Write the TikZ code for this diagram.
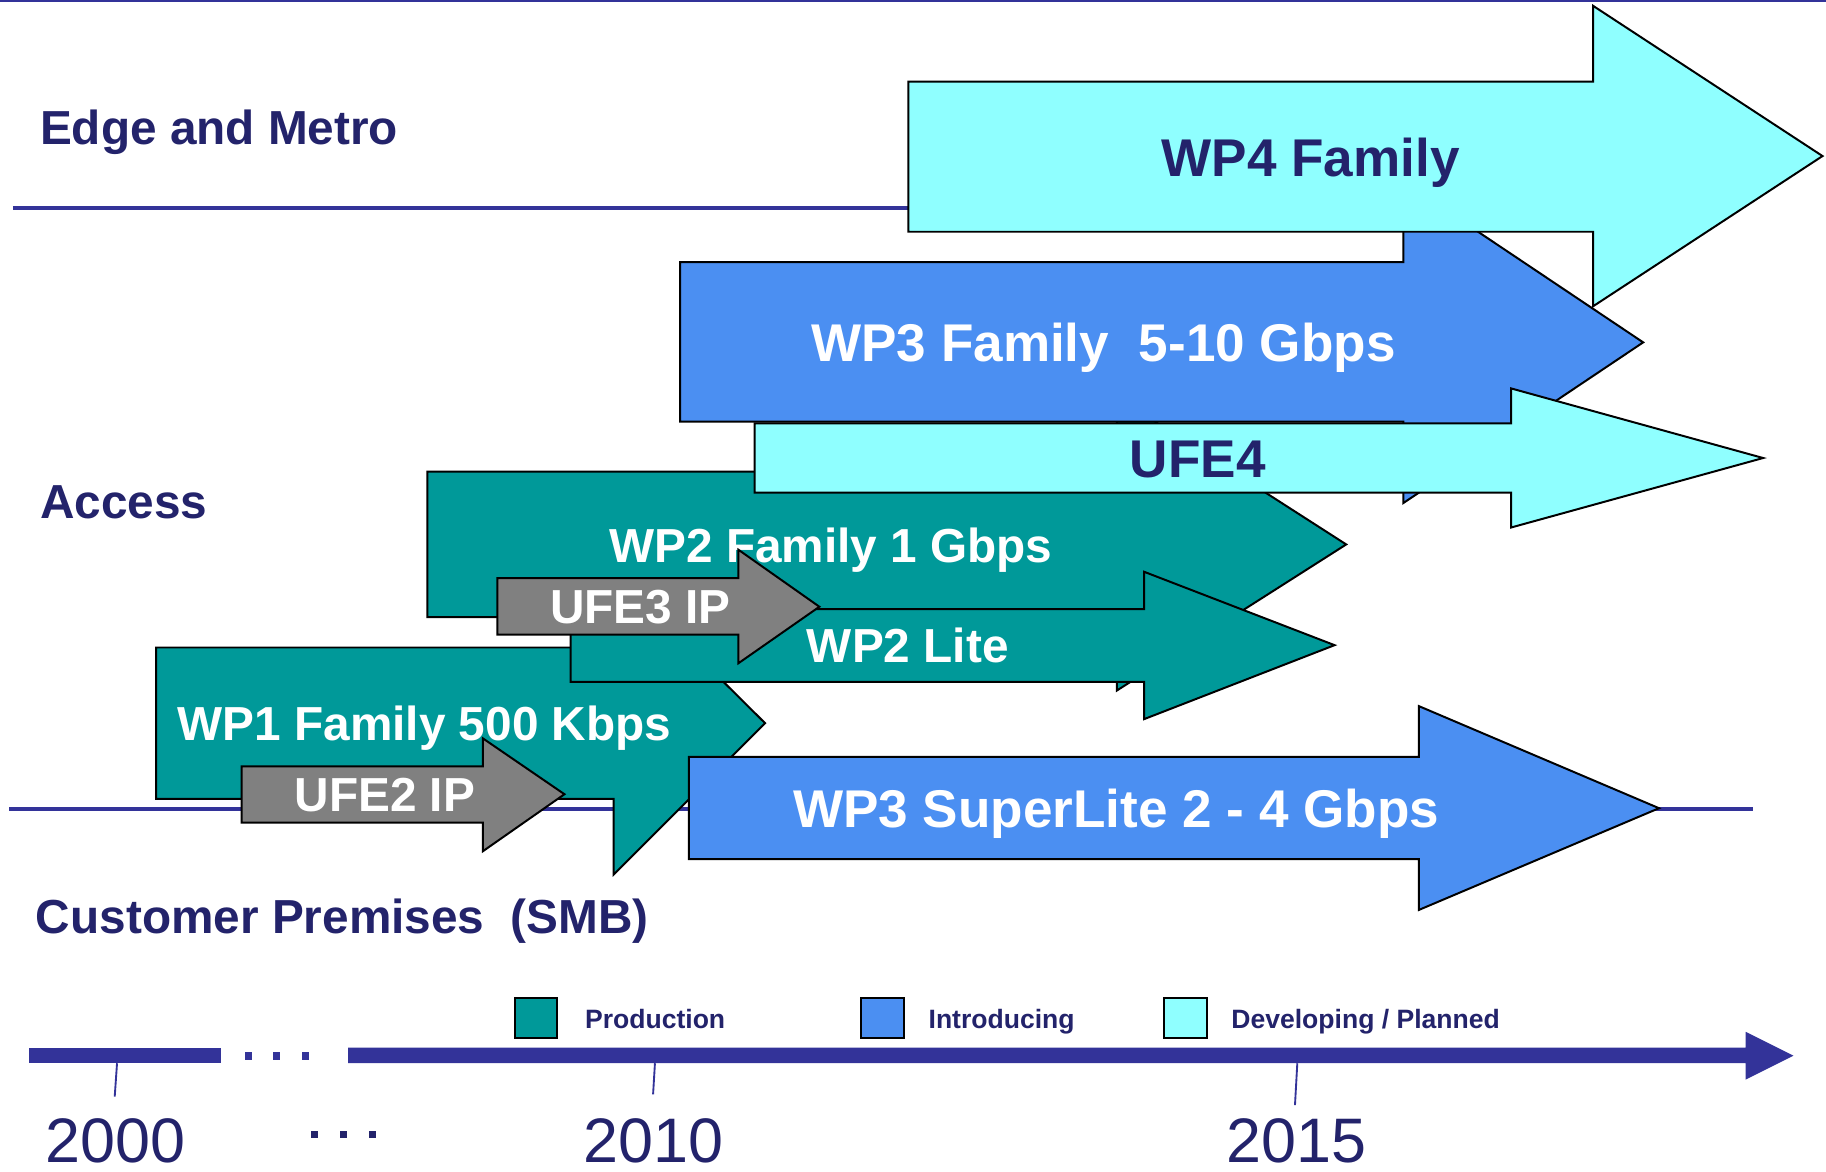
\documentclass[tikz,border=0pt]{standalone}
\usepackage{fontspec}
\setmainfont{Liberation Sans}
\definecolor{navy}{HTML}{23236B}
\definecolor{barblue}{HTML}{333399}
\definecolor{teal}{HTML}{009999}
\definecolor{introblue}{HTML}{4B8FF2}
\definecolor{devcyan}{HTML}{8FFFFF}
\definecolor{ipgray}{HTML}{808080}
\begin{document}
\begin{tikzpicture}[x=0.5pt,y=-0.5pt,
  arr/.style={draw=black, line width=0.85pt, line join=miter},
  lbl/.style={font=\fontsize{20.5}{24}\selectfont\bfseries, text=navy, inner sep=0pt, anchor=base west},
  bigtxt/.style={font=\fontsize{22.8}{27}\selectfont\bfseries, inner sep=0pt, anchor=base},
  midtxt/.style={font=\fontsize{20.5}{24}\selectfont\bfseries, inner sep=0pt, anchor=base},
  legtxt/.style={font=\fontsize{11.4}{14}\selectfont\bfseries, text=navy, inner sep=0pt, anchor=base west},
  yrtxt/.style={font=\fontsize{27}{32}\selectfont, text=navy, inner sep=0pt, anchor=base},
  sepline/.style={draw=barblue, line width=1.7pt},
  tickline/.style={draw=barblue, line width=0.8pt},
  legbox/.style={draw=black, line width=0.9pt}]
\useasboundingbox (0,0) rectangle (1568,1006.4);
% separator lines
\draw[draw=barblue, line width=0.85pt] (0,0.9) -- (1568,0.9);
\draw[sepline] (11,178.5) -- (780,178.5);
\draw[sepline] (8,694.5) -- (1505,694.5);
% left labels
\node[lbl] (edge) at (34,124.5) {Edge and Metro};
\node[lbl] (access) at (34,445) {Access};
\node[lbl] (cpe) at (30.5,802) {Customer Premises\ \ (SMB)};
% WP1
\draw[arr, fill=teal] (134,556) -- (527,556) -- (527,492) -- (657,621) -- (527,751) -- (527,686) -- (134,686) -- cycle;
\node[midtxt, text=white] (wp1) at (364.5,636) {WP1 Family 500 Kbps};
% WP2 Family
\draw[arr, fill=teal] (367,405) -- (959,405) -- (959,341) -- (1156,467.5) -- (959,593) -- (959,530) -- (367,530) -- cycle;
\node[midtxt, text=white] (wp2) at (713.5,483) {WP2 Family 1 Gbps};
% WP3 Family
\draw[arr, fill=introblue] (584,225) -- (1205,225) -- (1205,156) -- (1411,294) -- (1205,432) -- (1205,362) -- (584,362) -- cycle;
\node[bigtxt, text=white] (wp3) at (947.5,310.5) {WP3 Family\ \ 5-10 Gbps};
% WP4
\draw[arr, fill=devcyan] (780,70) -- (1368,70) -- (1368,5) -- (1565,134) -- (1368,263) -- (1368,199) -- (780,199) -- cycle;
\node[bigtxt, text=navy] (wp4) at (1125.5,151.5) {WP4 Family};
% UFE4
\draw[arr, fill=devcyan] (648,363.5) -- (1297.5,363.5) -- (1297.5,333.5) -- (1514,393.3) -- (1297.5,453) -- (1297.5,423) -- (648,423) -- cycle;
\node[bigtxt, text=navy] (ufe4) at (1028.5,410) {UFE4};
% WP2 Lite
\draw[arr, fill=teal] (490,523) -- (982.5,523) -- (982.5,491) -- (1146,554) -- (982.5,617.5) -- (982.5,585.5) -- (490,585.5) -- cycle;
\node[midtxt, text=white] (wp2l) at (779.5,568.5) {WP2 Lite};
% UFE3 IP
\draw[arr, fill=ipgray] (427,496.5) -- (634,496.5) -- (634,472) -- (703.6,521) -- (634,569.6) -- (634,545) -- (427,545) -- cycle;
\node[midtxt, text=white] (ufe3) at (550,535.5) {UFE3 IP};
% UFE2 IP
\draw[arr, fill=ipgray] (207.5,658) -- (414.6,658) -- (414.6,634) -- (484.7,682) -- (414.6,731) -- (414.6,706.4) -- (207.5,706.4) -- cycle;
\node[midtxt, text=white] (ufe2) at (330.5,697) {UFE2 IP};
% WP3 SuperLite
\draw[arr, fill=introblue] (591.5,650) -- (1218.3,650) -- (1218.3,606.3) -- (1424.6,694) -- (1218.3,781.4) -- (1218.3,737.8) -- (591.5,737.8) -- cycle;
\node[bigtxt, text=white] (wp3sl) at (958.5,710.4) {WP3 SuperLite 2 - 4 Gbps};
% legend
\draw[legbox, fill=teal] (442,857.3) rectangle (478.5,891.6);
\node[legtxt] (lprod) at (502,883) {Production};
\draw[legbox, fill=introblue] (739,857.3) rectangle (776,891.6);
\node[legtxt] (lintro) at (797,883) {Introducing};
\draw[legbox, fill=devcyan] (999.6,857.3) rectangle (1036.5,891.6);
\node[legtxt] (ldev) at (1057,883) {Developing / Planned};
% time axis
\fill[barblue] (25,899.6) rectangle (189.4,913);
\fill[barblue] (210,903.6) rectangle (216,910.2);
\fill[barblue] (234.5,903.6) rectangle (240.5,910.2);
\fill[barblue] (259.5,903.6) rectangle (265.5,910.2);
\fill[barblue] (299,899.6) -- (1499,899.6) -- (1499,886) -- (1540,906.5) -- (1499,927) -- (1499,913) -- (299,913) -- cycle;
\draw[tickline] (100.5,913) -- (98.5,941.7);
\draw[tickline] (562.4,913) -- (560.8,939.7);
\draw[tickline] (1114,913) -- (1112,949);
% years
\node[yrtxt] (y2000) at (98.8,998.5) {2000};
\node[yrtxt] (y2010) at (561,998.5) {2010};
\node[yrtxt] (y2015) at (1113,998.5) {2015};
\fill[navy] (267,971) rectangle (273,977.5);
\fill[navy] (292,971) rectangle (298,977.5);
\fill[navy] (317,971) rectangle (323,977.5);
\end{tikzpicture}
\end{document}
